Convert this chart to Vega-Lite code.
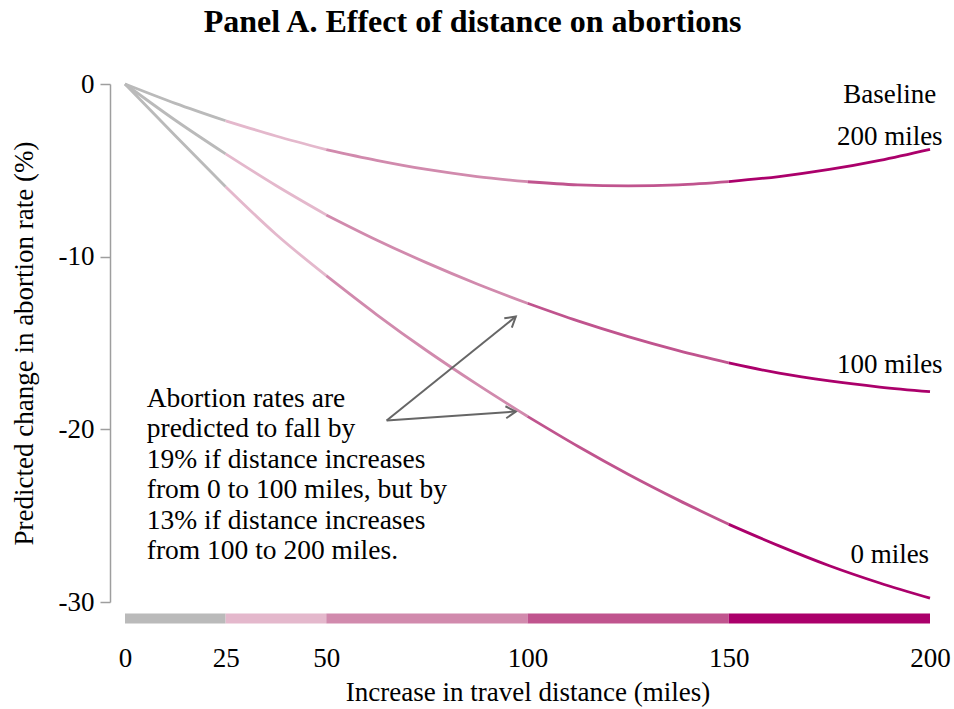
{
  "$schema": "https://vega.github.io/schema/vega-lite/v6.json",
  "width": 805,
  "height": 518,
  "autosize": {"type": "none"},
  "padding": {"left": 125, "top": 84, "right": 24, "bottom": 107},
  "background": "white",
  "config": {
    "view": {"stroke": null},
    "font": "Liberation Serif",
    "text": {"font": "Liberation Serif"}
  },
  "title": {
    "text": "Panel A. Effect of distance on abortions",
    "font": "Liberation Serif",
    "fontSize": 32,
    "fontWeight": "bold",
    "color": "black",
    "anchor": "middle",
    "frame": "group",
    "dx": -55,
    "offset": 31
  },
  "layer": [
    {
      "data": {"values": [
        {"curve": "200", "seg": "a", "x": 0, "y": 0},
        {"curve": "200", "seg": "a", "x": 12.5, "y": -1.12},
        {"curve": "200", "seg": "a", "x": 25, "y": -2.13},
        {"curve": "200", "seg": "b", "x": 25, "y": -2.13},
        {"curve": "200", "seg": "b", "x": 37.5, "y": -3.01},
        {"curve": "200", "seg": "b", "x": 50, "y": -3.8},
        {"curve": "200", "seg": "c", "x": 50, "y": -3.8},
        {"curve": "200", "seg": "c", "x": 62.5, "y": -4.42},
        {"curve": "200", "seg": "c", "x": 75, "y": -4.95},
        {"curve": "200", "seg": "c", "x": 87.5, "y": -5.36},
        {"curve": "200", "seg": "c", "x": 100, "y": -5.66},
        {"curve": "200", "seg": "d", "x": 100, "y": -5.66},
        {"curve": "200", "seg": "d", "x": 112.5, "y": -5.84},
        {"curve": "200", "seg": "d", "x": 125, "y": -5.9},
        {"curve": "200", "seg": "d", "x": 137.5, "y": -5.84},
        {"curve": "200", "seg": "d", "x": 150, "y": -5.65},
        {"curve": "200", "seg": "e", "x": 150, "y": -5.65},
        {"curve": "200", "seg": "e", "x": 162.5, "y": -5.36},
        {"curve": "200", "seg": "e", "x": 175, "y": -4.95},
        {"curve": "200", "seg": "e", "x": 187.5, "y": -4.42},
        {"curve": "200", "seg": "e", "x": 200, "y": -3.78},
        {"curve": "100", "seg": "a", "x": 0, "y": 0},
        {"curve": "100", "seg": "a", "x": 12.5, "y": -2.1},
        {"curve": "100", "seg": "a", "x": 25, "y": -4.05},
        {"curve": "100", "seg": "b", "x": 25, "y": -4.05},
        {"curve": "100", "seg": "b", "x": 37.5, "y": -5.88},
        {"curve": "100", "seg": "b", "x": 50, "y": -7.58},
        {"curve": "100", "seg": "c", "x": 50, "y": -7.58},
        {"curve": "100", "seg": "c", "x": 62.5, "y": -9.03},
        {"curve": "100", "seg": "c", "x": 75, "y": -10.36},
        {"curve": "100", "seg": "c", "x": 87.5, "y": -11.58},
        {"curve": "100", "seg": "c", "x": 100, "y": -12.7},
        {"curve": "100", "seg": "d", "x": 100, "y": -12.7},
        {"curve": "100", "seg": "d", "x": 112.5, "y": -13.72},
        {"curve": "100", "seg": "d", "x": 125, "y": -14.63},
        {"curve": "100", "seg": "d", "x": 137.5, "y": -15.44},
        {"curve": "100", "seg": "d", "x": 150, "y": -16.15},
        {"curve": "100", "seg": "e", "x": 150, "y": -16.15},
        {"curve": "100", "seg": "e", "x": 162.5, "y": -16.75},
        {"curve": "100", "seg": "e", "x": 175, "y": -17.2},
        {"curve": "100", "seg": "e", "x": 187.5, "y": -17.55},
        {"curve": "100", "seg": "e", "x": 200, "y": -17.82},
        {"curve": "0", "seg": "a", "x": 0, "y": 0},
        {"curve": "0", "seg": "a", "x": 12.5, "y": -3.0},
        {"curve": "0", "seg": "a", "x": 25, "y": -5.95},
        {"curve": "0", "seg": "b", "x": 25, "y": -5.95},
        {"curve": "0", "seg": "b", "x": 37.5, "y": -8.7},
        {"curve": "0", "seg": "b", "x": 50, "y": -11.1},
        {"curve": "0", "seg": "c", "x": 50, "y": -11.1},
        {"curve": "0", "seg": "c", "x": 62.5, "y": -13.35},
        {"curve": "0", "seg": "c", "x": 75, "y": -15.45},
        {"curve": "0", "seg": "c", "x": 87.5, "y": -17.4},
        {"curve": "0", "seg": "c", "x": 100, "y": -19.25},
        {"curve": "0", "seg": "d", "x": 100, "y": -19.25},
        {"curve": "0", "seg": "d", "x": 112.5, "y": -20.98},
        {"curve": "0", "seg": "d", "x": 125, "y": -22.6},
        {"curve": "0", "seg": "d", "x": 137.5, "y": -24.1},
        {"curve": "0", "seg": "d", "x": 150, "y": -25.5},
        {"curve": "0", "seg": "e", "x": 150, "y": -25.5},
        {"curve": "0", "seg": "e", "x": 162.5, "y": -26.75},
        {"curve": "0", "seg": "e", "x": 175, "y": -27.9},
        {"curve": "0", "seg": "e", "x": 187.5, "y": -28.9},
        {"curve": "0", "seg": "e", "x": 200, "y": -29.78}
      ]},
      "mark": {"type": "line", "strokeWidth": 2.8, "interpolate": "monotone", "strokeCap": "butt"},
      "encoding": {
        "x": {
          "field": "x", "type": "quantitative",
          "scale": {"domain": [0, 200], "nice": false, "zero": false},
          "axis": {
            "values": [0, 25, 50, 100, 150, 200],
            "domain": false, "ticks": false, "tickSize": 0, "grid": false,
            "labelFontSize": 27, "labelColor": "black", "labelFont": "Liberation Serif",
            "labelBaseline": "alphabetic", "labelPadding": 64, "labelFlush": false,
            "title": "Increase in travel distance (miles)",
            "titleFontSize": 27, "titleFontWeight": "normal", "titleColor": "black",
            "titleFont": "Liberation Serif", "titleBaseline": "alphabetic", "titleY": 98
          }
        },
        "y": {
          "field": "y", "type": "quantitative",
          "scale": {"domain": [-30, 0], "nice": false, "zero": false},
          "axis": {
            "values": [-30, -20, -10, 0],
            "offset": 15, "grid": false,
            "domain": true, "domainColor": "#9e9e9e", "domainWidth": 1.5,
            "ticks": true, "tickColor": "#9e9e9e", "tickWidth": 1.5, "tickSize": 10,
            "labelFontSize": 27, "labelColor": "black", "labelFont": "Liberation Serif",
            "labelPadding": 6, "labelFlush": false,
            "labelExpr": "replace(datum.label, '\u2212', '-')",
            "title": "Predicted change in abortion rate (%)",
            "titleFontSize": 27, "titleFontWeight": "normal", "titleColor": "black",
            "titleFont": "Liberation Serif", "titleBaseline": "alphabetic",
            "titleX": -78, "titleY": 259, "titleAngle": 270
          }
        },
        "color": {
          "field": "seg", "type": "nominal",
          "scale": {"domain": ["a", "b", "c", "d", "e"], "range": ["#bababa", "#e4b8cc", "#d18aad", "#c0548e", "#ab006b"]},
          "legend": null
        },
        "detail": {"field": "curve"}
      }
    },
    {
      "data": {"values": [
        {"seg": "a", "x": 0, "x2": 25},
        {"seg": "b", "x": 25, "x2": 50},
        {"seg": "c", "x": 50, "x2": 100},
        {"seg": "d", "x": 100, "x2": 150},
        {"seg": "e", "x": 150, "x2": 200}
      ]},
      "mark": {"type": "rule", "strokeWidth": 10, "strokeCap": "butt"},
      "encoding": {
        "x": {"field": "x", "type": "quantitative"},
        "x2": {"field": "x2"},
        "y": {"datum": -30.95, "type": "quantitative"},
        "color": {"field": "seg", "type": "nominal", "legend": null}
      }
    },
    {
      "data": {"values": [
        {"x": 65.0, "y": -19.49, "x2": 97.1, "y2": -13.47},
        {"x": 65.0, "y": -19.49, "x2": 97.1, "y2": -18.97}
      ]},
      "mark": {"type": "rule", "stroke": "#666666", "strokeWidth": 2},
      "encoding": {
        "x": {"field": "x", "type": "quantitative"},
        "y": {"field": "y", "type": "quantitative"},
        "x2": {"field": "x2"},
        "y2": {"field": "y2"}
      }
    },
    {
      "data": {"values": [{"x": 97.1, "y": -13.47}]},
      "mark": {"type": "point", "shape": "M-1,-0.6L0,0L-1,0.6", "filled": false, "stroke": "#666666", "strokeWidth": 2, "size": 400, "angle": 321, "opacity": 1},
      "encoding": {
        "x": {"field": "x", "type": "quantitative"},
        "y": {"field": "y", "type": "quantitative"}
      }
    },
    {
      "data": {"values": [{"x": 97.1, "y": -18.97}]},
      "mark": {"type": "point", "shape": "M-1,-0.6L0,0L-1,0.6", "filled": false, "stroke": "#666666", "strokeWidth": 2, "size": 400, "angle": 356, "opacity": 1},
      "encoding": {
        "x": {"field": "x", "type": "quantitative"},
        "y": {"field": "y", "type": "quantitative"}
      }
    },
    {
      "data": {"values": [
        {"label": "Baseline", "x": 190, "y": -1.12},
        {"label": "200 miles", "x": 190, "y": -3.53},
        {"label": "100 miles", "x": 190, "y": -16.73},
        {"label": "0 miles", "x": 190, "y": -27.75}
      ]},
      "mark": {"type": "text", "font": "Liberation Serif", "fontSize": 27, "align": "center", "baseline": "alphabetic", "color": "black"},
      "encoding": {
        "x": {"field": "x", "type": "quantitative"},
        "y": {"field": "y", "type": "quantitative"},
        "text": {"field": "label"}
      }
    },
    {
      "data": {"values": [
        {"label": "Abortion rates are\npredicted to fall by\n19% if distance increases\nfrom 0 to 100 miles, but by\n13% if distance increases\nfrom 100 to 200 miles.", "x": 5.4, "y": -18.69}
      ]},
      "mark": {"type": "text", "font": "Liberation Serif", "fontSize": 27.5, "align": "left", "baseline": "alphabetic", "lineBreak": "\n", "lineHeight": 30.5, "color": "black"},
      "encoding": {
        "x": {"field": "x", "type": "quantitative"},
        "y": {"field": "y", "type": "quantitative"},
        "text": {"field": "label"}
      }
    }
  ]
}
